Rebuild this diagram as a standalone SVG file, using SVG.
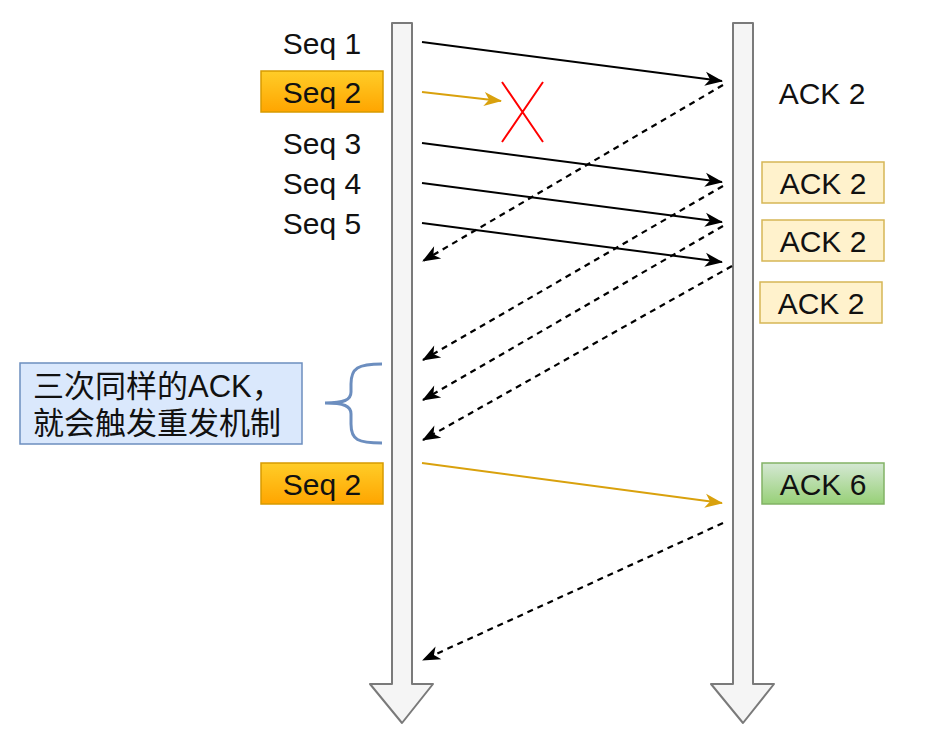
<svg xmlns="http://www.w3.org/2000/svg" width="933" height="747" viewBox="0 0 933 747">
<defs>
<style>
.lane{fill:#f5f5f5;stroke:#7a7a7a;stroke-width:2;stroke-linejoin:round}
.t{font-family:"Liberation Sans",Arial,sans-serif;font-size:30px;fill:#111;text-anchor:middle;dominant-baseline:central}
.cjk{font-family:"Liberation Sans","Noto Sans CJK SC",sans-serif;font-size:31px;fill:#111}
.solid{fill:none;stroke:#000;stroke-width:2}
.orange{fill:none;stroke:#d9a10d;stroke-width:2}
.dash{fill:none;stroke:#000;stroke-width:2.2;stroke-dasharray:6 5}
</style>
<linearGradient id="gOrange" x1="0" y1="0" x2="0" y2="1"><stop offset="0" stop-color="#ffcd28"/><stop offset="1" stop-color="#ffa500"/></linearGradient>
<linearGradient id="gGreen" x1="0" y1="0" x2="0" y2="1"><stop offset="0" stop-color="#d5e8d4"/><stop offset="1" stop-color="#97d077"/></linearGradient>
<marker id="ab" markerUnits="userSpaceOnUse" markerWidth="20" markerHeight="16" refX="17" refY="7" orient="auto" overflow="visible"><path d="M0,0 L18,7 L0,14 L5,7 Z" fill="#000"/></marker>
<marker id="ao" markerUnits="userSpaceOnUse" markerWidth="20" markerHeight="16" refX="17" refY="7" orient="auto" overflow="visible"><path d="M0,0 L18,7 L0,14 L5,7 Z" fill="#d9a10d"/></marker>
</defs>
<rect width="933" height="747" fill="#fff"/>
<g id="sender-lane"><path class="lane" d="M392,23 L412,23 L412,684 L433,684 L402,723 L370,684 L392,684 Z"/></g>
<g id="receiver-lane"><path class="lane" d="M733,23 L753,23 L753,684 L774,684 L743,723 L711,684 L733,684 Z"/></g>
<g id="connectors">
<line class="solid" x1="422" y1="42" x2="722" y2="81" marker-end="url(#ab)"/>
<line class="orange" x1="422" y1="92" x2="501" y2="101" marker-end="url(#ao)"/>
<line class="solid" x1="422" y1="143" x2="722" y2="182" marker-end="url(#ab)"/>
<line class="solid" x1="422" y1="183" x2="722" y2="222" marker-end="url(#ab)"/>
<line class="solid" x1="422" y1="223" x2="722" y2="262" marker-end="url(#ab)"/>
<line class="dash" x1="723" y1="85" x2="423" y2="261" marker-end="url(#ab)"/>
<line class="dash" x1="723" y1="186" x2="423" y2="360" marker-end="url(#ab)"/>
<line class="dash" x1="723" y1="226" x2="423" y2="400" marker-end="url(#ab)"/>
<line class="dash" x1="732" y1="266" x2="423" y2="440" marker-end="url(#ab)"/>
<line class="orange" x1="422" y1="463" x2="722" y2="503" marker-end="url(#ao)"/>
<line class="dash" x1="723" y1="523" x2="423" y2="660" marker-end="url(#ab)"/>
</g>
<g id="loss-mark"><path d="M502,82 L543,142 M543,82 L502,142" stroke="#ff0000" stroke-width="2" fill="none"/></g>
<g id="seq1"><text class="t" x="322" y="43">Seq 1</text></g>
<g id="seq2"><rect x="261" y="71" width="122" height="41" fill="url(#gOrange)" stroke="#d79b00" stroke-width="1.5"/><text class="t" x="322" y="92">Seq 2</text></g>
<g id="seq3"><text class="t" x="322" y="143">Seq 3</text></g>
<g id="seq4"><text class="t" x="322" y="183">Seq 4</text></g>
<g id="seq5"><text class="t" x="322" y="223">Seq 5</text></g>
<g id="ack2-a"><text class="t" x="822" y="93">ACK 2</text></g>
<g id="ack2-b"><rect x="762" y="162" width="122" height="41" fill="#fff2cc" stroke="#d6b656" stroke-width="1.5"/><text class="t" x="823" y="183">ACK 2</text></g>
<g id="ack2-c"><rect x="762" y="220" width="122" height="41" fill="#fff2cc" stroke="#d6b656" stroke-width="1.5"/><text class="t" x="823" y="241">ACK 2</text></g>
<g id="ack2-d"><rect x="760" y="282" width="122" height="41" fill="#fff2cc" stroke="#d6b656" stroke-width="1.5"/><text class="t" x="821" y="303">ACK 2</text></g>
<g id="note"><rect x="20" y="363" width="282" height="81" fill="#dae8fc" stroke="#6c8ebf" stroke-width="1.5"/>
<text class="cjk" x="33" y="397">三次同样的ACK，</text>
<text class="cjk" x="33" y="434">就会触发重发机制</text></g>
<g id="brace"><path d="M382,364 C358,364 351,368 351,384 L351,392 C351,400 344,403 325,403 C344,403 351,406 351,414 L351,424 C351,440 358,443 382,443" fill="none" stroke="#6c8ebf" stroke-width="3"/></g>
<g id="seq2-retx"><rect x="261" y="463" width="122" height="41" fill="url(#gOrange)" stroke="#d79b00" stroke-width="1.5"/><text class="t" x="322" y="484">Seq 2</text></g>
<g id="ack6"><rect x="762" y="463" width="122" height="41" fill="url(#gGreen)" stroke="#82b366" stroke-width="1.5"/><text class="t" x="823" y="484">ACK 6</text></g>
</svg>
